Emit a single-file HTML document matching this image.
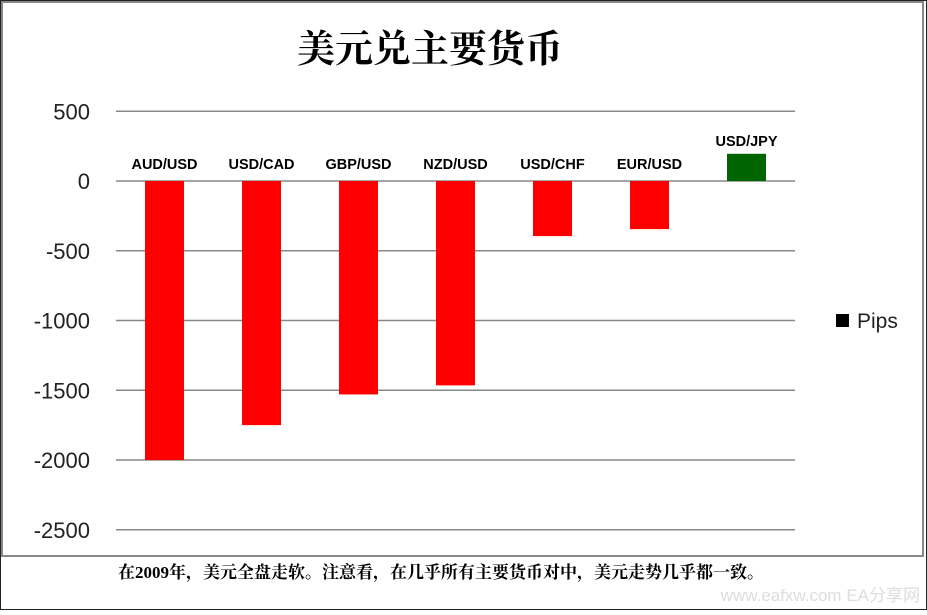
<!DOCTYPE html>
<html><head><meta charset="utf-8"><style>
body{margin:0;width:927px;height:610px;background:#fff;overflow:hidden;font-family:"Liberation Sans","Noto Sans CJK SC",sans-serif}
</style></head><body>
<svg width="927" height="610">
<rect x="0.5" y="0.5" width="926" height="609" fill="#fff" stroke="#222"/>
<rect x="2" y="2" width="921" height="554" fill="#fff" stroke="#888" stroke-width="2"/>
<text x="430" y="62" text-anchor="middle" font-family="'Liberation Serif','Noto Serif CJK SC',serif" font-size="38" font-weight="bold">美元兑主要货币</text>
<g id="grid"></g><g id="bars"></g>
<rect x="836" y="314" width="13" height="13" fill="#000"/>
<text x="857" y="328" font-size="21" fill="#222">Pips</text>
<text x="441" y="578" text-anchor="middle" font-family="'Liberation Serif','Noto Serif CJK SC',serif" font-size="17" font-weight="bold">在2009年，美元全盘走软。注意看，在几乎所有主要货币对中，美元走势几乎都一致。</text>
<text x="920" y="601" text-anchor="end" font-size="17" fill="#ddd">www.eafxw.com  EA分享网</text>
</svg>
<script>
const categories=["AUD/USD","USD/CAD","GBP/USD","NZD/USD","USD/CHF","EUR/USD","USD/JPY"];
const pips=[-2000,-1750,-1530,-1465,-395,-345,195];
const ticks=[500,0,-500,-1000,-1500,-2000,-2500];
const NS="http://www.w3.org/2000/svg";
const x0=116,x1=795,step=(x1-x0)/categories.length;
const y=v=>181-v*0.1395;
const g=document.getElementById('grid'),b=document.getElementById('bars');
ticks.forEach(t=>{
 const l=document.createElementNS(NS,'line');
 l.setAttribute('x1',x0);l.setAttribute('x2',x1);l.setAttribute('y1',y(t));l.setAttribute('y2',y(t));
 l.setAttribute('stroke','#888');l.setAttribute('stroke-width','1.5');
 
 
 g.appendChild(l);
 const tx=document.createElementNS(NS,'text');
 tx.setAttribute('x',90);tx.setAttribute('y',y(t)+8);tx.setAttribute('text-anchor','end');
 tx.setAttribute('font-size','22');tx.setAttribute('fill','#222');tx.textContent=t;
 
 
 g.appendChild(tx);
});
categories.forEach((c,i)=>{
 const v=pips[i],cx=x0+step*(i+0.5),w=39;
 const r=document.createElementNS(NS,'rect');
 r.setAttribute('x',cx-w/2);r.setAttribute('width',w);
 r.setAttribute('y',Math.min(y(v),y(0)));r.setAttribute('height',Math.abs(y(v)-y(0)));
 r.setAttribute('fill',v<0?'#ff0000':'#006400');
 
 
 b.appendChild(r);
 const t=document.createElementNS(NS,'text');
 t.setAttribute('x',cx);t.setAttribute('y',v<0?169:Math.min(y(v),y(0))-8);
 t.setAttribute('text-anchor','middle');t.setAttribute('font-size','14.5');t.setAttribute('font-weight','bold');
 t.textContent=c;
 
 
 b.appendChild(t);
});
</script>
</body></html>
